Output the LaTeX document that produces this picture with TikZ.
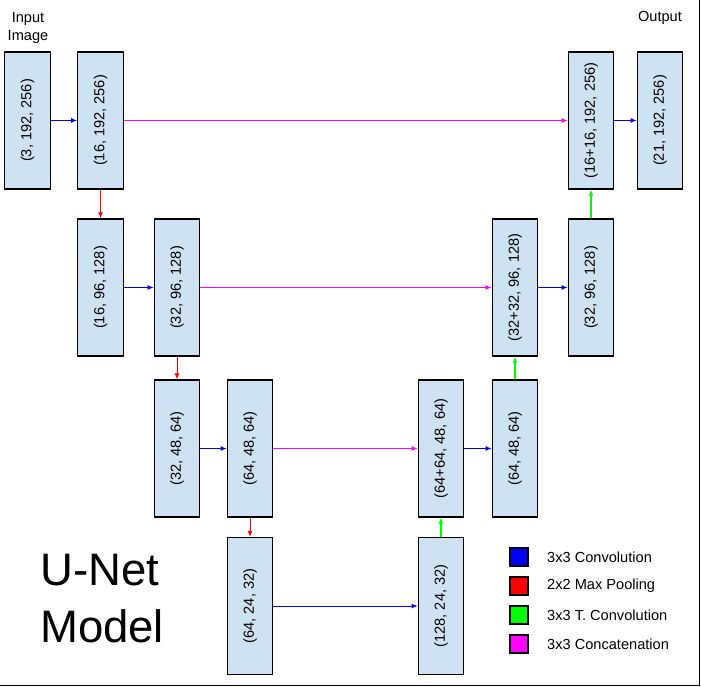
\documentclass[tikz,border=0pt]{standalone}
\usepackage{fontspec}
\setmainfont{Liberation Sans}
\usepackage{graphicx}
\usetikzlibrary{arrows.meta}
\definecolor{layerfill}{HTML}{CFE2F3}
\definecolor{convcol}{HTML}{0000FF}
\definecolor{poolcol}{HTML}{FF0000}
\definecolor{tconvcol}{HTML}{00FF00}
\definecolor{catcol}{HTML}{FF00FF}
\tikzset{>={Latex[length=6pt,width=5pt]}}
\tikzset{
  layer/.style={draw=black, line width=1.2pt, fill=layerfill,
    minimum width=45.5pt, minimum height=137pt, inner sep=0pt,
    font=\fontsize{14.6}{17.5}\selectfont},
  conv/.style={->, draw=convcol, line width=1pt},
  pool/.style={->, draw=poolcol, line width=1pt},
  tconv/.style={->, draw=tconvcol, line width=1.1pt},
  concat/.style={->, draw=catcol, line width=1pt},
  legbox/.style={draw=black, line width=1.2pt, minimum size=18pt, inner sep=0pt},
  legtext/.style={anchor=west, inner sep=0pt, font=\fontsize{14.6}{17.5}\selectfont},
}
\newcommand{\vtext}[1]{\rotatebox{90}{#1}}

\begin{document}
\begin{tikzpicture}[x=1pt,y=-1pt]
\useasboundingbox (0,0) rectangle (701,687);
% frame
\draw[line width=1.5pt] (699.5,0) -- (699.5,685.5) -- (0,685.5);
% captions
\node[align=center, font=\fontsize{14.6}{18}\selectfont] (inlabel) at (28,28) {Input\\Image};
\node[font=\fontsize{14.6}{17.5}\selectfont] (outlabel) at (660,18) {Output};
% row 1
\node[layer] (inp)  at (27.5,120.5) {\vtext{(3, 192, 256)}};
\node[layer] (enc1) at (100.5,120.5) {\vtext{(16, 192, 256)}};
\node[layer] (cat1) at (591,120.5) {\vtext{(16+16, 192, 256)}};
\node[layer] (outp) at (660,120.5) {\vtext{(21, 192, 256)}};
% row 2
\node[layer] (down1) at (100.5,287.5) {\vtext{(16, 96, 128)}};
\node[layer] (enc2)  at (177,287.5) {\vtext{(32, 96, 128)}};
\node[layer] (cat2)  at (515,287.5) {\vtext{(32+32, 96, 128)}};
\node[layer] (dec2)  at (591,287.5) {\vtext{(32, 96, 128)}};
% row 3
\node[layer] (down2) at (177,448.5) {\vtext{(32, 48, 64)}};
\node[layer] (enc3)  at (250,448.5) {\vtext{(64, 48, 64)}};
\node[layer] (cat3)  at (441,448.5) {\vtext{(64+64, 48, 64)}};
\node[layer] (dec3)  at (515,448.5) {\vtext{(64, 48, 64)}};
% row 4
\node[layer] (down3) at (250,606) {\vtext{(64, 24, 32)}};
\node[layer] (bott)  at (441,606) {\vtext{(128, 24, 32)}};
% convolutions
\draw[conv] (inp.east) -- (enc1.west);
\draw[conv] (cat1.east) -- (outp.west);
\draw[conv] (down1.east) -- (enc2.west);
\draw[conv] (cat2.east) -- (dec2.west);
\draw[conv] (down2.east) -- (enc3.west);
\draw[conv] (cat3.east) -- (dec3.west);
\draw[conv] (down3.east) -- (bott.west);
% max pooling
\draw[pool] (enc1.south) -- (down1.north);
\draw[pool] (enc2.south) -- (down2.north);
\draw[pool] (enc3.south) -- (down3.north);
% transposed convolutions
\draw[tconv] (bott.north) -- (cat3.south);
\draw[tconv] (dec3.north) -- (cat2.south);
\draw[tconv] (dec2.north) -- (cat1.south);
% skip connections
\draw[concat] (enc1.east) -- (cat1.west);
\draw[concat] (enc2.east) -- (cat2.west);
\draw[concat] (enc3.east) -- (cat3.west);
% title
\node[anchor=base west, inner sep=0pt, font=\fontsize{45.5}{57}\selectfont] (title) at (40,585) {U-Net};
\node[anchor=base west, inner sep=0pt, font=\fontsize{45.5}{57}\selectfont] (titlemodel) at (40,642) {Model};
% legend
\node[legbox, fill=convcol]  (legconv)  at (519,557) {};
\node[legbox, fill=poolcol]  (legpool)  at (519,586) {};
\node[legbox, fill=tconvcol] (legtconv) at (519,615) {};
\node[legbox, fill=catcol]   (legcat)   at (519,644) {};
\node[legtext] (legconvtxt)  at (547,557) {3x3 Convolution};
\node[legtext] (legpooltxt)  at (547,586) {2x2 Max Pooling};
\node[legtext] (legtconvtxt) at (547,615) {3x3 T. Convolution};
\node[legtext] (legcattxt)   at (547,644) {3x3 Concatenation};
\end{tikzpicture}
\end{document}
